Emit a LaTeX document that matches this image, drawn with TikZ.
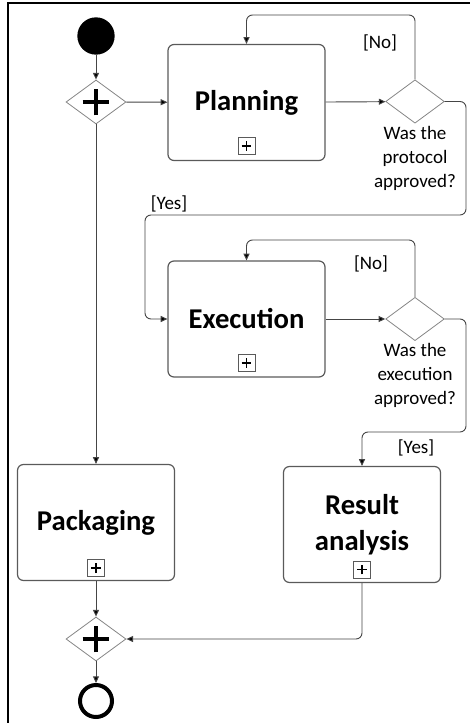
\documentclass[tikz,border=0pt]{standalone}
\usepackage{fontspec}
\setmainfont{Carlito}
\usepackage{tikz}
\usetikzlibrary{shapes.geometric}
\usetikzlibrary{arrows.meta}

\definecolor{boxgray}{HTML}{5A5A5A}
\definecolor{diagray}{HTML}{858585}
\definecolor{linegray}{HTML}{454545}

\tikzset{
  task/.style={draw=boxgray, line width=0.9pt, rounded corners=4.5pt,
    minimum width=117.75pt, minimum height=87pt, align=center,
    font=\bfseries\fontsize{21.5}{27}\selectfont},
  subbox/.style={draw=boxgray, line width=0.6pt, minimum size=12.75pt, inner sep=0pt,
    path picture={\draw[draw=black, line width=1.3pt]
      ([xshift=-3.6pt]path picture bounding box.center) -- ([xshift=3.6pt]path picture bounding box.center)
      ([yshift=-3.6pt]path picture bounding box.center) -- ([yshift=3.6pt]path picture bounding box.center);}},
  gateway/.style={diamond, draw=diagray, line width=0.6pt, minimum width=45pt, minimum height=33pt, inner sep=0pt,
    path picture={\draw[draw=black, line width=3.6pt]
      ([xshift=-10pt]path picture bounding box.center) -- ([xshift=10pt]path picture bounding box.center)
      ([yshift=-10pt]path picture bounding box.center) -- ([yshift=10pt]path picture bounding box.center);}},
  decision/.style={diamond, draw=diagray, line width=0.6pt, minimum width=44pt, minimum height=32.5pt, inner sep=0pt},
  question/.style={anchor=north, align=center, inner sep=0pt, font=\fontsize{14.25}{18}\selectfont},
  guard/.style={inner sep=0pt, font=\fontsize{14.25}{18}\selectfont},
  flow/.style={draw=linegray, line width=0.7pt, -{Triangle[length=5pt,width=4.5pt,fill=black]}},
}

\begin{document}
\begin{tikzpicture}[x=0.75pt,y=-0.75pt]
  \useasboundingbox (0,0) rectangle (470,723);
  %
  % FRAME
  \draw[line width=2pt] (8,723) -- (8,3) -- (470,3);
  %
  % EVENTS AND GATEWAYS
  \node[circle, fill=black, minimum size=28pt, inner sep=0pt] (start) at (96,36) {};
  \node[gateway] (split) at (96,102) {};
  \node[gateway] (join) at (96,639) {};
  \node[circle, draw=black, line width=3pt, minimum size=24pt, inner sep=0pt] (stop) at (96,701) {};
  %
  % TASKS
  \node[task] (plan) at (246.5,102.5) {Planning};
  \node[task] (exec) at (246.5,319) {Execution};
  \node[task] (pack) at (96,522.5) {Packaging};
  \node[task] (res) at (362,524.5) {Result\\analysis};
  \node[subbox, above=4.5pt] (planplus) at (plan.south) {};
  \node[subbox, above=4.5pt] (execplus) at (exec.south) {};
  \node[subbox, above=3pt] (packplus) at (pack.south) {};
  \node[subbox, above=3.5pt] (resplus) at (res.south) {};
  %
  % DECISIONS
  \node[decision] (chkplan) at (415,101.5) {};
  \node[decision] (chkexec) at (415,319) {};
  \node[question] (qplan) at (415,126) {Was the\\protocol\\approved?};
  \node[question] (qexec) at (415,343.5) {Was the\\execution\\approved?};
  %
  % ROUTING POINTS
  \coordinate (noplan) at (246.5,15);
  \coordinate (noexec) at (246.5,240);
  \coordinate (yesplanA) at (466,215);
  \coordinate (yesplanB) at (145,319);
  \coordinate (yesexec) at (466,432);
  %
  % FLOWS
  \draw[flow] (start) -- (split);
  \draw[flow] (split) -- (plan);
  \draw[flow] (plan) -- (chkplan);
  \draw[flow, rounded corners=4.5pt] (chkplan.north) |- (noplan) -- (plan.north);
  \draw[flow, rounded corners=4.5pt] (chkplan.east) -| (yesplanA) -| (yesplanB) -- (exec.west);
  \draw[flow] (exec) -- (chkexec);
  \draw[flow, rounded corners=4.5pt] (chkexec.north) |- (noexec) -- (exec.north);
  \draw[flow, rounded corners=4.5pt] (chkexec.east) -| (yesexec) -| (res.north);
  \draw[flow] (split) -- (pack);
  \draw[flow] (pack) -- (join);
  \draw[flow, rounded corners=4.5pt] (res.south) |- (join.east);
  \draw[flow] (join) -- (stop);
  %
  % GUARDS
  \node[guard] (noA) at (380,43) {[No]};
  \node[guard] (noB) at (371,264) {[No]};
  \node[guard] (yesA) at (169,204) {[Yes]};
  \node[guard] (yesB) at (416,448) {[Yes]};
  %
\end{tikzpicture}
\end{document}
